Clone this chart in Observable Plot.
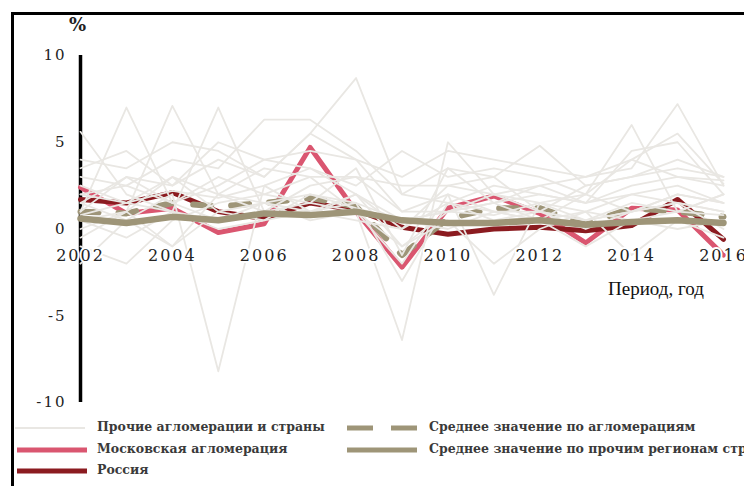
<!DOCTYPE html>
<html><head><meta charset="utf-8">
<script src="https://cdn.jsdelivr.net/npm/d3@7"></script>
<script src="https://cdn.jsdelivr.net/npm/@observablehq/plot@0.6"></script>
<style>
html,body{margin:0;padding:0;background:#fff;}
body{width:744px;height:486px;overflow:hidden;position:relative;font-family:"DejaVu Serif",serif;}
#frame{position:absolute;left:11px;top:12px;width:900px;height:700px;border:3px solid #000;box-sizing:border-box;pointer-events:none;}
#chart{position:absolute;left:0;top:0;}
#chart svg text{letter-spacing:2px;}
.lab{position:absolute;white-space:nowrap;}
#pct{left:69px;top:14px;font-size:18px;font-weight:bold;color:#222;}
#xlab{left:608px;top:278px;font-family:"Liberation Serif",serif;font-size:19px;color:#111;}
.leg{position:absolute;font-size:12.5px;font-weight:bold;color:#3a3a3a;white-space:nowrap;line-height:1;}
.sw{position:absolute;}
</style></head>
<body>
<div id="chart"></div>
<div id="pct" class="lab">%</div>
<div id="xlab" class="lab">Период, год</div>
<div id="legend"></div>
<div id="frame"></div>
<script>
const years = [2002,2003,2004,2005,2006,2007,2008,2009,2010,2011,2012,2013,2014,2015,2016];
const xTicks = [2002,2004,2006,2008,2010,2012,2014,2016];
const yTicks = [-10,-5,0,5,10];

const moscow   = [2.4, 0.9, 1.2, -0.2, 0.3, 4.7, 1.0, -2.2, 1.2, 1.9, 0.9, -0.8, 1.2, 1.1, -1.5];
const russia   = [1.7, 1.5, 2.1, 1.0, 0.6, 1.5, 1.1, 0.1, -0.3, 0.0, 0.1, -0.1, 0.2, 1.7, -0.6];
const aggAvg   = [1.0, 0.9, 1.5, 1.3, 1.5, 1.8, 1.3, -1.5, 0.6, 1.2, 1.2, 0.3, 1.2, 1.0, 0.7];
const otherAvg = [0.6, 0.35, 0.7, 0.5, 0.9, 0.8, 1.0, 0.5, 0.35, 0.35, 0.5, 0.25, 0.4, 0.5, 0.35];

const other01 = [5.6, 2.0, 1.0, 0.5, 1.5, 2.0, 1.2, 0.5, 1.0, 0.8, 1.5, 0.5, 1.0, 2.0, 1.5];
const other02 = [1.0, 7.0, 1.5, 0.5, 1.0, 0.8, 2.0, -1.0, 1.0, 1.5, 0.5, 1.0, 0.5, 1.0, 0.8];
const other03 = [0.5, 1.0, 7.1, 2.0, 1.5, 1.0, 0.5, 0.0, 1.5, 1.0, 0.5, 2.0, 1.0, 1.5, 1.0];
const other04 = [2.0, 1.5, 1.0, 7.0, 1.0, 1.5, 1.0, -2.0, 2.0, 1.0, 1.0, 0.5, 1.5, 1.0, 2.0];
const other05 = [1.5, 0.5, 2.0, -8.2, 2.5, 1.0, 1.5, 0.5, 1.0, 2.0, 1.5, 1.0, 2.0, 1.5, 1.0];
const other06 = [3.0, 2.5, 4.0, 3.5, 6.3, 6.3, 4.5, 2.0, 3.5, 3.0, 4.8, 2.5, 3.0, 3.5, 3.0];
const other07 = [1.0, 3.0, 2.5, 4.0, 3.0, 5.5, 8.7, 2.0, 1.5, 2.5, 2.0, 1.5, 2.5, 3.0, 2.5];
const other08 = [-1.0, -2.0, 0.5, 1.5, 2.0, 3.0, 1.0, -6.4, 5.0, 2.0, 1.0, 0.5, 1.0, 2.0, 1.5];
const other09 = [0.0, 1.0, -1.0, 2.0, 1.0, 2.5, 3.0, 1.0, 2.0, -3.8, 1.5, 2.0, 6.0, 1.0, 2.0];
const other10 = [2.5, 1.5, 3.0, 2.0, 3.5, 3.0, 3.0, 2.5, 2.5, 2.0, 2.5, 3.0, 3.5, 7.2, 2.5];
const other11 = [0.5, -0.5, 1.0, 0.0, 0.5, 1.0, 2.0, 0.5, 0.0, 1.0, 0.5, -1.0, 0.5, 0.0, 0.5];
const other12 = [3.5, 4.5, 2.5, 5.0, 4.0, 3.5, 2.5, 4.5, 3.0, 3.5, 3.0, 2.0, 4.0, 3.0, 2.8];
const other13 = [1.5, 3.0, 1.5, 2.5, 4.0, 4.5, 4.0, 1.0, 1.0, 1.5, 2.5, 1.5, 4.5, 5.0, 2.0];
const other14 = [-0.5, 1.0, 3.0, 1.0, 0.5, 2.0, 1.5, -3.0, 1.5, 0.5, 1.0, 0.0, 1.0, 1.5, 0.0];
const other15 = [2.0, 2.5, 1.5, 3.0, 2.0, 1.5, 3.5, -1.5, 3.5, 1.5, 2.0, 1.5, 2.0, 2.5, 1.5];
const other16 = [0.8, 1.5, 2.2, 1.8, 2.5, 3.5, 2.0, 0.0, 2.5, 3.0, 1.0, 2.5, 3.0, 4.0, 3.0];
const other17 = [-2.0, 0.5, -1.0, 1.0, 1.5, 0.5, 1.0, -1.0, 0.5, -2.0, 0.0, 1.0, -1.5, 0.5, -0.5];
const other18 = [4.0, 3.5, 5.0, 4.5, 3.0, 5.5, 4.0, 3.0, 4.5, 4.0, 3.5, 3.0, 4.0, 5.5, 2.6];
const others = [other01,other02,other03,other04,other05,other06,other07,other08,other09,
                other10,other11,other12,other13,other14,other15,other16,other17,other18];

const legendLabels = ["Прочие агломерации и страны","Московская агломерация","Россия",
                      "Среднее значение по агломерациям","Среднее значение по прочим регионам страны"];

const C_OTHER = "#e9e7e3", C_MOS = "#da5670", C_RUS = "#8b1b20", C_AVG = "#9e9578";

const toRows = vals => vals.map((v, j) => ({year: years[j], value: v}));
const otherRows = others.flatMap((vals, i) => vals.map((v, j) => ({series: i, year: years[j], value: v})));

const chart = Plot.plot({
  width: 744, height: 410,
  marginLeft: 80, marginRight: 21, marginTop: 55, marginBottom: 8,
  style: {fontFamily: "DejaVu Serif", background: "transparent", color: "#222"},
  x: {domain: [years[0], years[years.length-1]], axis: null},
  y: {domain: [yTicks[0], yTicks[yTicks.length-1]]},
  marks: [
    Plot.ruleX([years[0]], {y1: yTicks[0], y2: yTicks[yTicks.length-1], stroke: "#000", strokeWidth: 3.5}),
    Plot.line(toRows(moscow), {x: "year", y: "value", stroke: C_MOS, strokeWidth: 5}),
    Plot.line(toRows(russia), {x: "year", y: "value", stroke: C_RUS, strokeWidth: 5}),
    Plot.line(toRows(aggAvg), {x: "year", y: "value", stroke: C_AVG, strokeWidth: 6, strokeDasharray: "18,20"}),
    Plot.line(otherRows, {x: "year", y: "value", z: "series", stroke: C_OTHER, strokeWidth: 1.8}),
    Plot.line(toRows(otherAvg), {x: "year", y: "value", stroke: C_AVG, strokeWidth: 6.5}),
    Plot.axisY({ticks: yTicks, tickSize: 0, tickPadding: 14, fontSize: 15, label: null, tickFormat: d => String(d)}),
    Plot.text(xTicks, {x: d => d, y: 0, dy: 27, text: d => String(d), fontSize: 16, fill: "#222", stroke: "white", strokeWidth: 4})
  ]
});
document.getElementById("chart").appendChild(chart);

// legend
const leg = d3.select("#legend");
const rowsY = [428, 450, 471];
const items = [
  {label: legendLabels[0], color: C_OTHER, w: 2, dash: null, sx: 15, tx: 97, y: rowsY[0]},
  {label: legendLabels[1], color: C_MOS, w: 5, dash: null, sx: 17, tx: 97, y: rowsY[1]},
  {label: legendLabels[2], color: C_RUS, w: 5, dash: null, sx: 17, tx: 97, y: rowsY[2]},
  {label: legendLabels[3], color: C_AVG, w: 5, dash: "26,18", sx: 347, tx: 429, y: rowsY[0]},
  {label: legendLabels[4], color: C_AVG, w: 5, dash: null, sx: 347, tx: 429, y: rowsY[1]}
];
items.forEach(it => {
  const svg = leg.append("svg").attr("class", "sw")
    .attr("width", 72).attr("height", 10)
    .style("left", it.sx + "px").style("top", (it.y - 5) + "px");
  svg.append("line").attr("x1", 0).attr("x2", 70).attr("y1", 5).attr("y2", 5)
    .attr("stroke", it.color).attr("stroke-width", it.w)
    .attr("stroke-dasharray", it.dash);
  leg.append("div").attr("class", "leg").text(it.label)
    .style("left", it.tx + "px").style("top", (it.y - 7) + "px");
});
</script>
</body></html>
